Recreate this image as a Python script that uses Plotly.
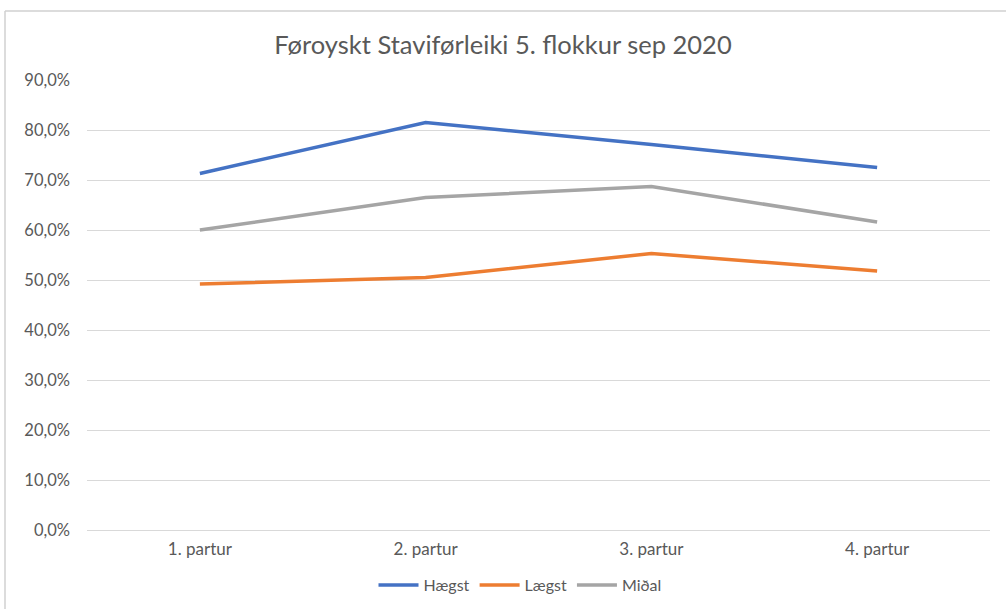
import plotly.graph_objects as go

categories = ["1. partur", "2. partur", "3. partur", "4. partur"]
haegst = [0.713, 0.815, 0.771, 0.725]
laegst = [0.492, 0.505, 0.553, 0.518]
midal = [0.600, 0.665, 0.687, 0.616]
series_names = ["Hægst", "Lægst", "Miðal"]
colors = ["#4472C4", "#ED7D31", "#A5A5A5"]

FONT = "Lato"
fig = go.Figure()
for name, vals, col in zip(series_names, [haegst, laegst, midal], colors):
    fig.add_trace(go.Scatter(x=categories, y=vals, mode="lines", name=name,
                             line=dict(color=col, width=3.5)))

L, R, T, B = 87, 16, 80, 79
W, H = 1006, 609
pw, ph = W - L - R, H - T - B

def px_x(p):
    return (p - L) / pw

def px_y(p):
    return (H - B - p) / ph

fig.update_layout(
    width=W, height=H,
    margin=dict(l=L, r=R, t=T, b=B, autoexpand=False),
    paper_bgcolor="white", plot_bgcolor="white",
    separators=", ",
    title=dict(text="Føroyskt Staviførleiki 5. flokkur sep 2020",
               x=0.5, xanchor="center", y=1 - 45 / H, yanchor="middle",
               font=dict(family=FONT, size=25.5, color="#595959")),
    font=dict(family=FONT, size=16, color="#595959"),
    xaxis=dict(type="category", range=[-0.5, 3.5], showgrid=False,
               showline=False, ticks="", automargin=False,
               ticklabelstandoff=7,
               tickfont=dict(size=17, color="#595959")),
    yaxis=dict(range=[0, 0.9], dtick=0.1, tickformat=".1%", showgrid=True,
               gridcolor="#D9D9D9", gridwidth=1, zeroline=True,
               zerolinecolor="#D9D9D9", zerolinewidth=1, showline=False,
               ticks="", ticklabelstandoff=16, automargin=False,
               tickfont=dict(size=16.5, color="#595959")),
    legend=dict(orientation="h", x=px_x(520), xanchor="center",
                y=px_y(585), yanchor="middle",
                font=dict(size=16, color="#595959"), itemwidth=40,
                tracegroupgap=0),
    showlegend=True,
)

# chart border (left and top)
fig.add_shape(type="line", xref="paper", yref="paper",
              x0=px_x(5), x1=px_x(5), y0=px_y(11), y1=px_y(620),
              line=dict(color="#D0D0D0", width=1.5))
fig.add_shape(type="line", xref="paper", yref="paper",
              x0=px_x(5), x1=px_x(1010), y0=px_y(11), y1=px_y(11),
              line=dict(color="#D0D0D0", width=1.5))

fig.write_html("out.html", config={"displayModeBar": False},
               post_script="document.body.style.margin='0';document.body.style.padding='0';document.body.style.overflow='hidden';")
